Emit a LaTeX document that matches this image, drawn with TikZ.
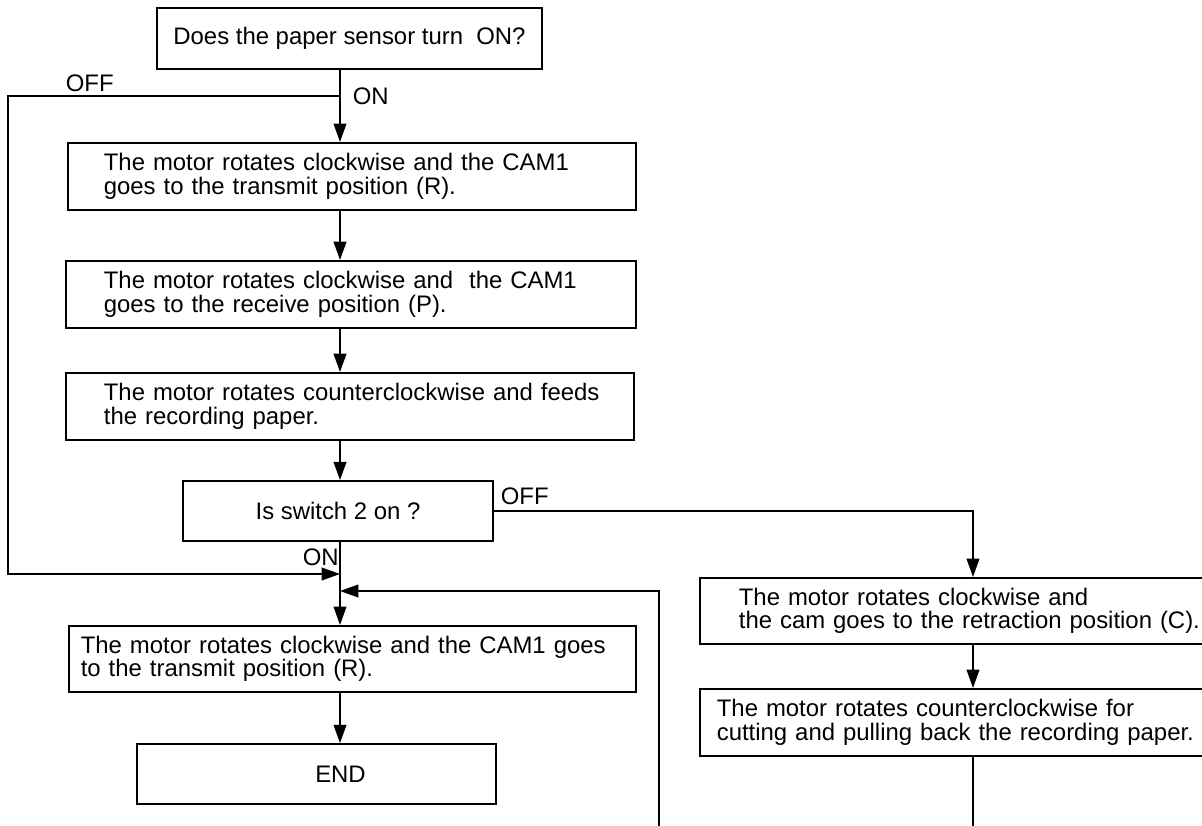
\documentclass[tikz,border=0pt]{standalone}
\usepackage{fontspec}
\setmainfont{Liberation Sans}
\usetikzlibrary{arrows.meta}
\newcommand\fs{\fontsize{17}{16.6}\selectfont}
\begin{document}
\begin{tikzpicture}[x=0.025cm,y=-0.025cm,
  line width=1.2pt,
  box/.style={draw, rectangle, inner ysep=0pt, font=\fs, anchor=north west, align=left},
  cbox/.style={draw, rectangle, inner sep=0pt, font=\fs, align=center},
  lbl/.style={font=\fs, anchor=base west, inner sep=0pt},
  arr/.style={-{Triangle[length=13pt,width=9pt]}},
]
\useasboundingbox (0,0) rectangle (1202,826);
\clip (0,0) rectangle (1202,826);

\coordinate (sp) at (340,0);
\coordinate (rsp) at (973,0);
\coordinate (offA) at (340,96);
\coordinate (offL) at (8,96);
\coordinate (onJ) at (340,574);
\coordinate (loopJ) at (340,591);
\coordinate (loopB) at (659,830);
\coordinate (rB) at (973,830);

\node[cbox, minimum width=9.625cm, minimum height=1.525cm] (b1) at (349.5,38.5) {Does the paper sensor turn~ ON?};

\node[box, text width=12.4cm, inner xsep=0.9cm, minimum height=1.675cm] (b2) at (67,142)
  {\mbox{The motor rotates clockwise and the CAM1}\\\mbox{goes to the transmit position (R).}};
\node[box, text width=12.35cm, inner xsep=0.95cm, minimum height=1.675cm] (b3) at (65,260)
  {\mbox{The motor rotates clockwise and~ the CAM1}\\\mbox{goes to the receive position (P).}};
\node[box, text width=12.3cm, inner xsep=0.95cm, minimum height=1.675cm] (b4) at (65,372)
  {\mbox{The motor rotates counterclockwise and feeds}\\\mbox{the recording paper.}};

\node[cbox, minimum width=7.75cm, minimum height=1.5cm] (d) at (338,511) {Is switch 2 on ?};

\node[box, text width=13.575cm, inner xsep=0.3cm, minimum height=1.65cm] (b5) at (68,625)
  {\mbox{The motor rotates clockwise and the CAM1 goes}\\\mbox{to the transmit position (R).}};

\node[cbox, minimum width=8.975cm, minimum height=1.5cm] (end) at (316.5,774) {};
\node[font=\fs, inner sep=0pt] (endtxt) at (340.5,774) {END};

\node[box, text width=11.325cm, inner xsep=0.975cm, minimum height=1.65cm] (r1) at (699,577)
  {\mbox{The motor rotates clockwise and}\\\mbox{the cam goes to the retraction position (C).}};
\node[box, text width=12.425cm, inner xsep=0.425cm, minimum height=1.675cm] (r2) at (699,688)
  {\mbox{The motor rotates counterclockwise for}\\\mbox{cutting and pulling back the recording paper.}};

\draw[arr] (b1.south -| sp) -- (b2.north -| sp);
\draw[arr] (offA) -- (offL) |- (onJ);
\draw[arr] (b2.south -| sp) -- (b3.north -| sp);
\draw[arr] (b3.south -| sp) -- (b4.north -| sp);
\draw[arr] (b4.south -| sp) -- (d.north -| sp);
\draw[arr] (d.south -| sp) -- (b5.north -| sp);
\draw[arr] (loopB) |- (loopJ);
\draw[arr] (b5.south -| sp) -- (end.north -| sp);
\draw[arr] (d.east) -| (r1.north -| rsp);
\draw[arr] (r1.south -| rsp) -- (r2.north -| rsp);
\draw (r2.south -| rsp) -- (rB);

\node[lbl] (off1) at (65,92) {OFF};
\node[lbl] (on1) at (352,105) {ON};
\node[lbl] (off2) at (500,504) {OFF};
\node[lbl] (on2) at (302,565) {ON};
\end{tikzpicture}
\end{document}
